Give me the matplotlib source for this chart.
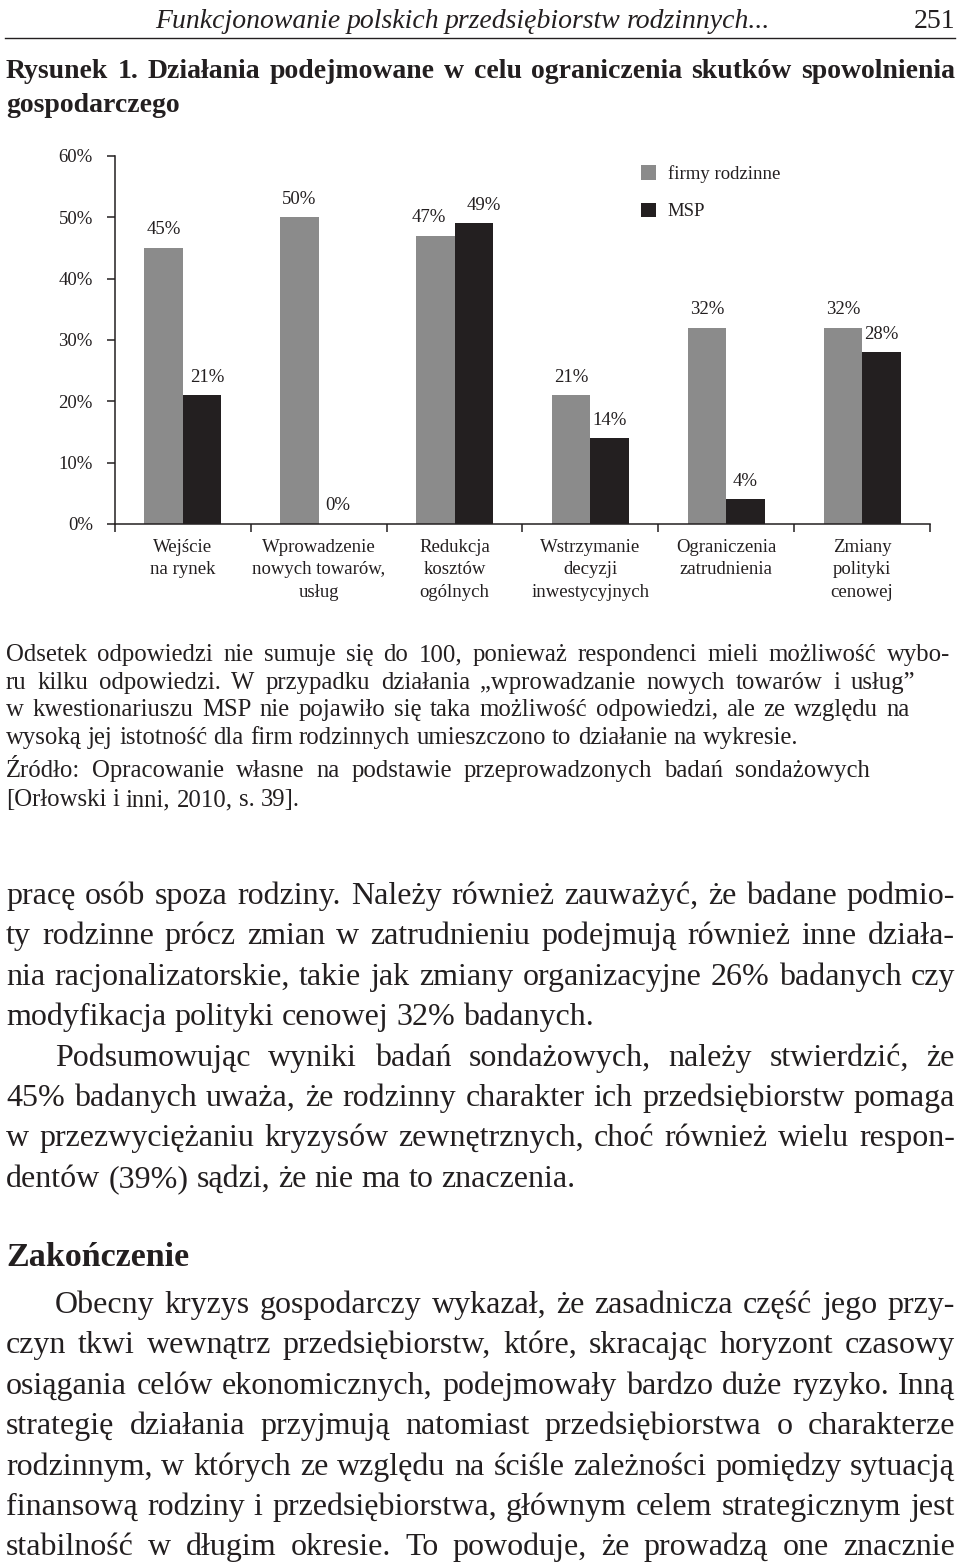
import matplotlib
matplotlib.use("Agg")
import matplotlib.pyplot as plt
from matplotlib.transforms import IdentityTransform
import numpy as np

# ---------------- data ----------------
categories = ["Wejście\nna rynek",
              "Wprowadzenie\nnowych towarów,\nusług",
              "Redukcja\nkosztów\nogólnych",
              "Wstrzymanie\ndecyzji\ninwestycyjnych",
              "Ograniczenia\nzatrudnienia",
              "Zmiany\npolityki\ncenowej"]
firmy_rodzinne = [45, 50, 47, 21, 32, 32]
msp = [21, 0, 49, 14, 4, 28]
series_names = ["firmy rodzinne", "MSP"]
y_ticks = [0, 10, 20, 30, 40, 50, 60]
y_tick_labels = ["0%", "10%", "20%", "30%", "40%", "50%", "60%"]

header_title = "Funkcjonowanie polskich przedsiębiorstw rodzinnych..."
page_number = "251"
figure_title = ["Rysunek 1. Działania podejmowane w celu ograniczenia skutków spowolnienia",
                "gospodarczego"]
note_lines = ["Odsetek odpowiedzi nie sumuje się do 100, ponieważ respondenci mieli możliwość wybo-",
              "ru kilku odpowiedzi. W przypadku działania „wprowadzanie nowych towarów i usług”",
              "w kwestionariuszu MSP nie pojawiło się taka możliwość odpowiedzi, ale ze względu na",
              "wysoką jej istotność dla firm rodzinnych umieszczono to działanie na wykresie.",
              "Źródło: Opracowanie własne na podstawie przeprowadzonych badań sondażowych",
              "[Orłowski i inni, 2010, s. 39]."]
body1 = ["pracę osób spoza rodziny. Należy również zauważyć, że badane podmio-",
         "ty rodzinne prócz zmian w zatrudnieniu podejmują również inne działa-",
         "nia racjonalizatorskie, takie jak zmiany organizacyjne 26% badanych czy",
         "modyfikacja polityki cenowej 32% badanych.",
         "Podsumowując wyniki badań sondażowych, należy stwierdzić, że",
         "45% badanych uważa, że rodzinny charakter ich przedsiębiorstw pomaga",
         "w przezwyciężaniu kryzysów zewnętrznych, choć również wielu respon-",
         "dentów (39%) sądzi, że nie ma to znaczenia."]
section_title = "Zakończenie"
body2 = ["Obecny kryzys gospodarczy wykazał, że zasadnicza część jego przy-",
         "czyn tkwi wewnątrz przedsiębiorstw, które, skracając horyzont czasowy",
         "osiągania celów ekonomicznych, podejmowały bardzo duże ryzyko. Inną",
         "strategię działania przyjmują natomiast przedsiębiorstwa o charakterze",
         "rodzinnym, w których ze względu na ściśle zależności pomiędzy sytuacją",
         "finansową rodziny i przedsiębiorstwa, głównym celem strategicznym jest",
         "stabilność w długim okresie. To powoduje, że prowadzą one znacznie"]

# ---------------- style ----------------
W, H, DPI = 960, 1564, 100
FAM = ["Liberation Serif", "DejaVu Serif"]
INK = "#231f20"
GRAY = "#8b8b8b"
BLACK = "#231f20"
CH = 13.5  # chart font size

plt.rcParams["font.family"] = FAM
plt.rcParams["text.color"] = INK
plt.rcParams["axes.edgecolor"] = INK
plt.rcParams["xtick.color"] = INK
plt.rcParams["ytick.color"] = INK

fig = plt.figure(figsize=(W / DPI, H / DPI), dpi=DPI)
fig.patch.set_facecolor("white")
renderer = fig.canvas.get_renderer()
PIX = IdentityTransform()


def text_width(s, **kw):
    t = fig.text(0, 0, s, transform=PIX, **kw)
    w = t.get_window_extent(renderer).width
    t.remove()
    return w


def put_line(text, x0, x1, baseline, size, justify=True, **kw):
    words = text.split(" ")
    while True:
        widths = [text_width(w, fontsize=size, **kw) for w in words]
        space = text_width("a a", fontsize=size, **kw) - text_width("aa", fontsize=size, **kw)
        if justify and len(words) > 1:
            gap = (x1 - x0 - sum(widths)) / (len(words) - 1)
        else:
            gap = space
        if gap < 0.5 * space and size > 6:
            size -= 0.25
            continue
        break
    x = x0
    for w, wd in zip(words, widths):
        fig.text(x, H - baseline, w, transform=PIX, ha="left", va="baseline",
                 fontsize=size, **kw)
        x += wd + gap


# ---------------- page header ----------------
put_line(header_title, 155, 770, 28, 21, justify=True, style="italic")
fig.text(955, H - 28, page_number, transform=PIX, ha="right", va="baseline", fontsize=20)
fig.add_artist(plt.Line2D([5, 955], [H - 38, H - 38], transform=PIX, color=INK, lw=1.0))

put_line(figure_title[0], 6, 955, 78, 20, justify=True, weight="bold")
put_line(figure_title[1], 6, 955, 112, 20, justify=False, weight="bold")

# ---------------- chart ----------------
ax = fig.add_axes([115 / W, 1 - 524 / H, 815 / W, 368 / H])
x = np.arange(len(categories))
bw = 0.2835
b1 = ax.bar(x - bw / 2, firmy_rodzinne, bw, color=GRAY, label=series_names[0])
b2 = ax.bar(x + bw / 2, msp, bw, color=BLACK, label=series_names[1])

label_dx = {(0, 1): 4, (2, 0): -5, (2, 1): 7}
for si, (vals, off) in enumerate([(firmy_rodzinne, -bw / 2), (msp, bw / 2)]):
    for ci, v in enumerate(vals):
        ax.annotate(f"{v}%", (x[ci] + off, v), xytext=(label_dx.get((ci, si), 0), 13),
                    textcoords="offset points", ha="center", va="center", fontsize=CH)

ax.set_xlim(-0.5, len(categories) - 0.5)
ax.set_ylim(0, 60)
ax.set_yticks(y_ticks)
ax.set_yticklabels(y_tick_labels, fontsize=CH)
ax.set_xticks(np.arange(-0.5, len(categories), 1.0))
ax.set_xticklabels([])
ax.set_xticks(x, minor=True)
ax.set_xticklabels(categories, minor=True, fontsize=CH, linespacing=1.4)
ax.tick_params(axis="x", which="major", direction="out", length=6, width=1.1)
ax.tick_params(axis="x", which="minor", length=0, pad=11)
ax.tick_params(axis="y", direction="out", length=6, width=1.1, pad=10)
for s in ["top", "right"]:
    ax.spines[s].set_visible(False)
for s in ["left", "bottom"]:
    ax.spines[s].set_linewidth(1.1)
ax.set_facecolor("none")

leg = ax.legend(handles=[b1, b2], frameon=False, loc="upper left",
                bbox_to_anchor=(0.646, 0.975), borderpad=0, borderaxespad=0,
                handlelength=0.8, handleheight=0.8, handletextpad=0.6,
                labelspacing=1.05, fontsize=CH)

# ---------------- note ----------------
NS = 17.8
note_ends = [950, 915, 910, None, 870, None]
note_base = [661, 689, 716, 744, 777, 806]
for line, end, yb in zip(note_lines, note_ends, note_base):
    put_line(line, 6, end if end else 955, yb, NS, justify=end is not None)

# ---------------- body ----------------
BS = 23
b1_base = [904, 944, 985, 1025, 1066, 1106, 1146, 1187]
b1_indent = [6, 6, 6, 6, 55, 6, 6, 6]
b1_just = [True, True, True, False, True, True, True, False]
for line, yb, x0, j in zip(body1, b1_base, b1_indent, b1_just):
    put_line(line, x0, 955, yb, BS, justify=j)

put_line(section_title, 6, 955, 1266, 24.5, justify=False, weight="bold")

b2_base = [1313, 1353, 1394, 1434, 1475, 1515, 1555]
for i, (line, yb) in enumerate(zip(body2, b2_base)):
    put_line(line, 55 if i == 0 else 6, 955, yb, BS, justify=True)

fig.savefig("out.png", dpi=DPI, facecolor="white")
